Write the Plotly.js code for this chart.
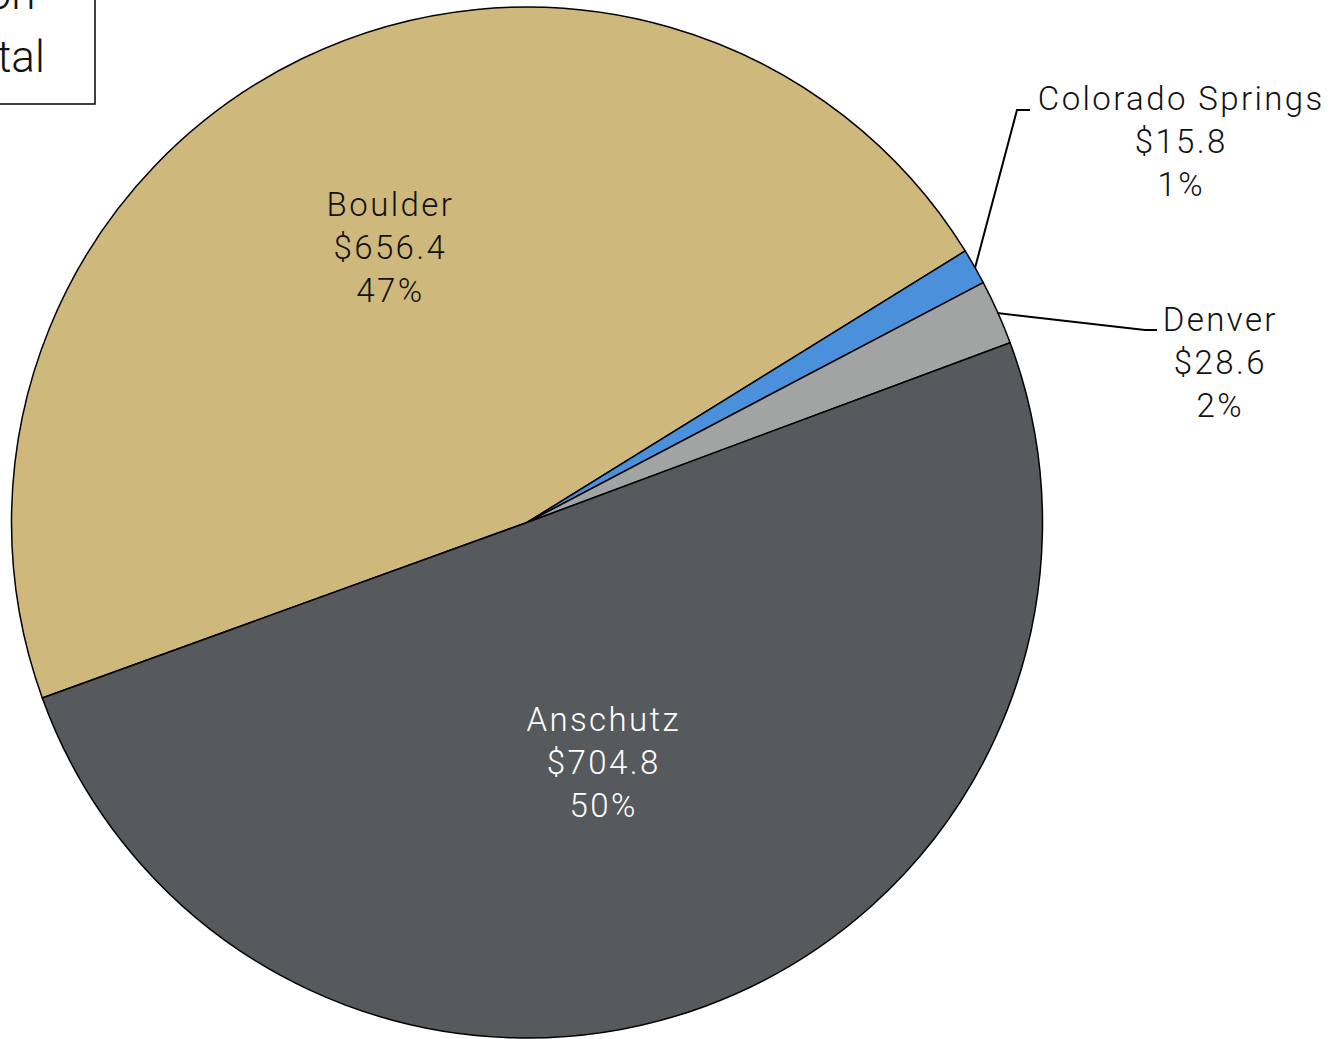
<!DOCTYPE html>
<html>
<head>
<meta charset="utf-8">
<script src="https://cdn.plot.ly/plotly-3.0.1.min.js"></script>
<style>
html,body{margin:0;padding:0;background:#fff;}
#chart{width:1340px;height:1039px;}
#chart text.annotation-text{letter-spacing:2.4px;}
#chart g.annotation[data-index="4"] text.annotation-text,
#chart g.annotation[data-index="5"] text.annotation-text{letter-spacing:0;}
</style>
</head>
<body>
<div id="chart"></div>
<script>
// Data
const campuses = ["Boulder", "Colorado Springs", "Denver", "Anschutz"];
const amounts = [656.4, 15.8, 28.6, 704.8];
const colors = ["#CFB87C", "#4A90DB", "#A2A4A3", "#565A5D"];
const boxLines = ["$ in Million", "% of Total"];

const W = 1340, H = 1039;
const total = amounts.reduce((a, b) => a + b, 0);
const px = x => x / W;
const py = y => 1 - y / H;
const FONT = "Roboto, 'Open Sans', sans-serif";

function labelText(i) {
  return campuses[i] + "<br>$" + amounts[i].toFixed(1) + "<br>" + Math.round(amounts[i] / total * 100) + "%";
}

// label placement (pixels) and colors
const labelPos = [
  {x: 390, y: 247, c: "#111"},
  {x: 1181, y: 141, c: "#111"},
  {x: 1220, y: 363, c: "#111"},
  {x: 603, y: 762, c: "#ffffff"}
];

const annotations = campuses.map((c, i) => ({
  text: labelText(i), x: px(labelPos[i].x), y: py(labelPos[i].y),
  xref: "paper", yref: "paper", xanchor: "center", yanchor: "middle",
  showarrow: false, align: "center",
  font: {family: FONT, size: 33, color: labelPos[i].c, weight: 300}
}));

annotations.push({
  text: boxLines[0], x: px(37), y: py(-6), xref: "paper", yref: "paper",
  xanchor: "right", yanchor: "middle", showarrow: false,
  font: {family: FONT, size: 44, color: "#111", weight: 300}
});
annotations.push({
  text: boxLines[1], x: px(47), y: py(57), xref: "paper", yref: "paper",
  xanchor: "right", yanchor: "middle", showarrow: false,
  font: {family: FONT, size: 44, color: "#111", weight: 300}
});

const path = pts => pts.map((p, k) => (k ? "L" : "M") + px(p[0]) + "," + py(p[1])).join(" ");

const shapes = [
  {type: "path", xref: "paper", yref: "paper", path: path([[975, 268], [1017, 110], [1030, 110]]),
   line: {color: "#000", width: 2}},
  {type: "path", xref: "paper", yref: "paper", path: path([[997, 313], [1145, 330], [1157, 330]]),
   line: {color: "#000", width: 2}},
  {type: "rect", xref: "paper", yref: "paper", x0: px(-50), x1: px(95), y0: py(104), y1: py(-50),
   line: {color: "#000", width: 1.5}, fillcolor: "rgba(0,0,0,0)"}
];

const trace = {
  type: "pie",
  labels: campuses,
  values: amounts,
  sort: false,
  direction: "clockwise",
  rotation: -109.9,
  marker: {colors: colors, line: {color: "#000", width: 1.5}},
  textinfo: "none",
  hoverinfo: "label+value+percent",
  showlegend: false,
  domain: {x: [0, 1054 / W], y: [1 - 1038 / H, 1 - 7 / H]}
};

Plotly.newPlot("chart", [trace], {
  width: W, height: H,
  margin: {l: 0, r: 0, t: 0, b: 0},
  paper_bgcolor: "#ffffff",
  showlegend: false,
  annotations: annotations,
  shapes: shapes,
  font: {family: FONT}
}, {displayModeBar: false});
</script>
</body>
</html>
